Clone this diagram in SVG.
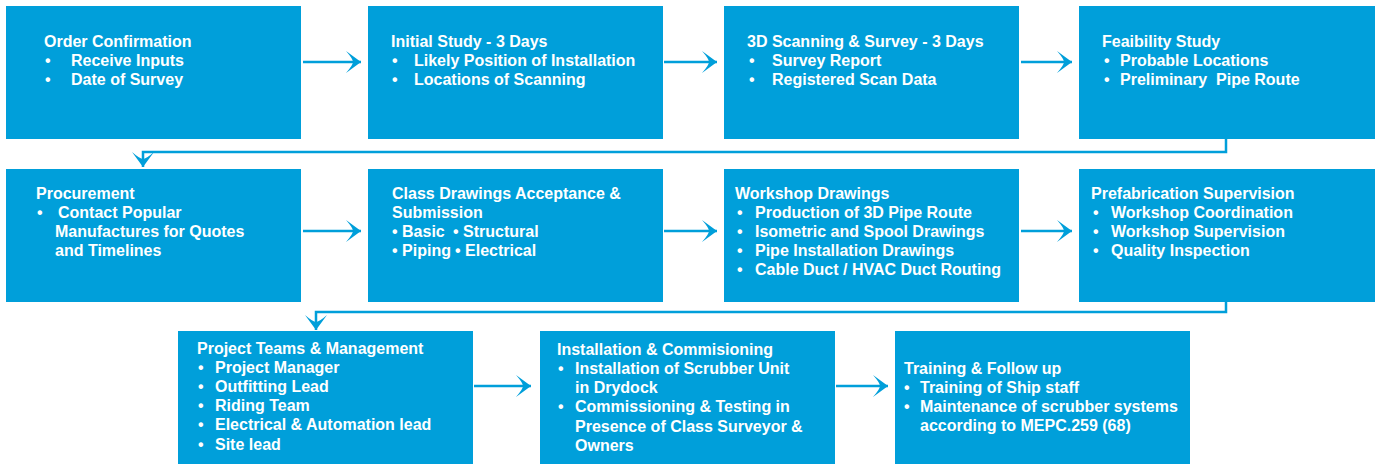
<svg xmlns="http://www.w3.org/2000/svg" width="1378" height="464" viewBox="0 0 1378 464">
<style>
.box{fill:#009fda}
.t{font-family:"Liberation Sans",Arial,sans-serif;font-weight:bold;font-size:16px;fill:#ffffff}
.c{fill:none;stroke:#009fda;stroke-width:2.5}
</style>
<defs>
<marker id="ah" markerUnits="userSpaceOnUse" markerWidth="18" markerHeight="24" viewBox="-16 -12 17 24" refX="0" refY="0" orient="auto">
<path d="M0,0 L-15,-11 Q-8,-3 -8,0 Q-8,3 -15,11 Z" fill="#009fda"/>
</marker>
</defs>
<rect width="1378" height="464" fill="#ffffff"/>
<g id="connectors">
<line class="c" x1="303" y1="62" x2="361" y2="62" marker-end="url(#ah)"/>
<line class="c" x1="664" y1="62" x2="717" y2="62" marker-end="url(#ah)"/>
<line class="c" x1="1021" y1="62" x2="1072" y2="62" marker-end="url(#ah)"/>
<polyline class="c" points="1226,139 1226,152 143,152 143,167" marker-end="url(#ah)"/>
<line class="c" x1="303" y1="231" x2="361" y2="231" marker-end="url(#ah)"/>
<line class="c" x1="664" y1="231" x2="717" y2="231" marker-end="url(#ah)"/>
<line class="c" x1="1021" y1="231" x2="1072" y2="231" marker-end="url(#ah)"/>
<polyline class="c" points="1226,302 1226,312 316,312 316,330" marker-end="url(#ah)"/>
<line class="c" x1="474" y1="386" x2="531" y2="386" marker-end="url(#ah)"/>
<line class="c" x1="836" y1="386" x2="888" y2="386" marker-end="url(#ah)"/>
</g>
<g id="n1">
<rect class="box" x="6" y="6" width="295" height="133"/>
<text class="t" x="44" y="47">Order Confirmation</text>
<text class="t" x="45" y="66">•</text><text class="t" x="71" y="66">Receive Inputs</text>
<text class="t" x="45" y="85">•</text><text class="t" x="71" y="85">Date of Survey</text>
</g>
<g id="n2">
<rect class="box" x="368" y="6" width="295" height="133"/>
<text class="t" x="391" y="47">Initial Study - 3 Days</text>
<text class="t" x="392" y="66">•</text><text class="t" x="414" y="66">Likely Position of Installation</text>
<text class="t" x="392" y="85">•</text><text class="t" x="414" y="85">Locations of Scanning</text>
</g>
<g id="n3">
<rect class="box" x="724" y="6" width="295" height="133"/>
<text class="t" x="747" y="47">3D Scanning &amp; Survey - 3 Days</text>
<text class="t" x="749" y="66">•</text><text class="t" x="772" y="66">Survey Report</text>
<text class="t" x="749" y="85">•</text><text class="t" x="772" y="85">Registered Scan Data</text>
</g>
<g id="n4">
<rect class="box" x="1079" y="6" width="296" height="133"/>
<text class="t" x="1102" y="47">Feaibility Study</text>
<text class="t" x="1104" y="66">•</text><text class="t" x="1120" y="66">Probable Locations</text>
<text class="t" x="1104" y="85">•</text><text class="t" x="1120" y="85" xml:space="preserve">Preliminary  Pipe Route</text>
</g>
<g id="n5">
<rect class="box" x="6" y="169" width="295" height="133"/>
<text class="t" x="36" y="199">Procurement</text>
<text class="t" x="37" y="218">•</text><text class="t" x="58" y="218">Contact Popular</text>
<text class="t" x="55" y="237">Manufactures for Quotes</text>
<text class="t" x="55" y="256">and Timelines</text>
</g>
<g id="n6">
<rect class="box" x="368" y="169" width="295" height="133"/>
<text class="t" x="392" y="199">Class Drawings Acceptance &amp;</text>
<text class="t" x="392" y="218">Submission</text>
<text class="t" x="392" y="237">• Basic</text><text class="t" x="453" y="237">• Structural</text>
<text class="t" x="392" y="256">• Piping</text><text class="t" x="455" y="256">• Electrical</text>
</g>
<g id="n7">
<rect class="box" x="724" y="169" width="295" height="133"/>
<text class="t" x="735" y="199">Workshop Drawings</text>
<text class="t" x="737" y="218">•</text><text class="t" x="755" y="218">Production of 3D Pipe Route</text>
<text class="t" x="737" y="237">•</text><text class="t" x="755" y="237">Isometric and Spool Drawings</text>
<text class="t" x="737" y="256">•</text><text class="t" x="755" y="256">Pipe Installation Drawings</text>
<text class="t" x="737" y="275">•</text><text class="t" x="755" y="275">Cable Duct / HVAC Duct Routing</text>
</g>
<g id="n8">
<rect class="box" x="1079" y="169" width="296" height="133"/>
<text class="t" x="1091" y="199">Prefabrication Supervision</text>
<text class="t" x="1093" y="218">•</text><text class="t" x="1111" y="218">Workshop Coordination</text>
<text class="t" x="1093" y="237">•</text><text class="t" x="1111" y="237">Workshop Supervision</text>
<text class="t" x="1093" y="256">•</text><text class="t" x="1111" y="256">Quality Inspection</text>
</g>
<g id="n9">
<rect class="box" x="178" y="331" width="295" height="133"/>
<text class="t" x="197" y="354">Project Teams &amp; Management</text>
<text class="t" x="198" y="373">•</text><text class="t" x="215" y="373">Project Manager</text>
<text class="t" x="198" y="392">•</text><text class="t" x="215" y="392">Outfitting Lead</text>
<text class="t" x="198" y="411">•</text><text class="t" x="215" y="411">Riding Team</text>
<text class="t" x="198" y="430">•</text><text class="t" x="215" y="430">Electrical &amp; Automation lead</text>
<text class="t" x="198" y="450">•</text><text class="t" x="215" y="450">Site lead</text>
</g>
<g id="n10">
<rect class="box" x="540" y="331" width="295" height="133"/>
<text class="t" x="557" y="355">Installation &amp; Commisioning</text>
<text class="t" x="558" y="374">•</text><text class="t" x="575" y="374">Installation of Scrubber Unit</text>
<text class="t" x="575" y="393">in Drydock</text>
<text class="t" x="558" y="412">•</text><text class="t" x="575" y="412">Commissioning &amp; Testing in</text>
<text class="t" x="575" y="432">Presence of Class Surveyor &amp;</text>
<text class="t" x="575" y="451">Owners</text>
</g>
<g id="n11">
<rect class="box" x="895" y="331" width="295" height="133"/>
<text class="t" x="904" y="374">Training &amp; Follow up</text>
<text class="t" x="904" y="393">•</text><text class="t" x="920" y="393">Training of Ship staff</text>
<text class="t" x="904" y="412">•</text><text class="t" x="920" y="412">Maintenance of scrubber systems</text>
<text class="t" x="920" y="431">according to MEPC.259 (68)</text>
</g>
</svg>
